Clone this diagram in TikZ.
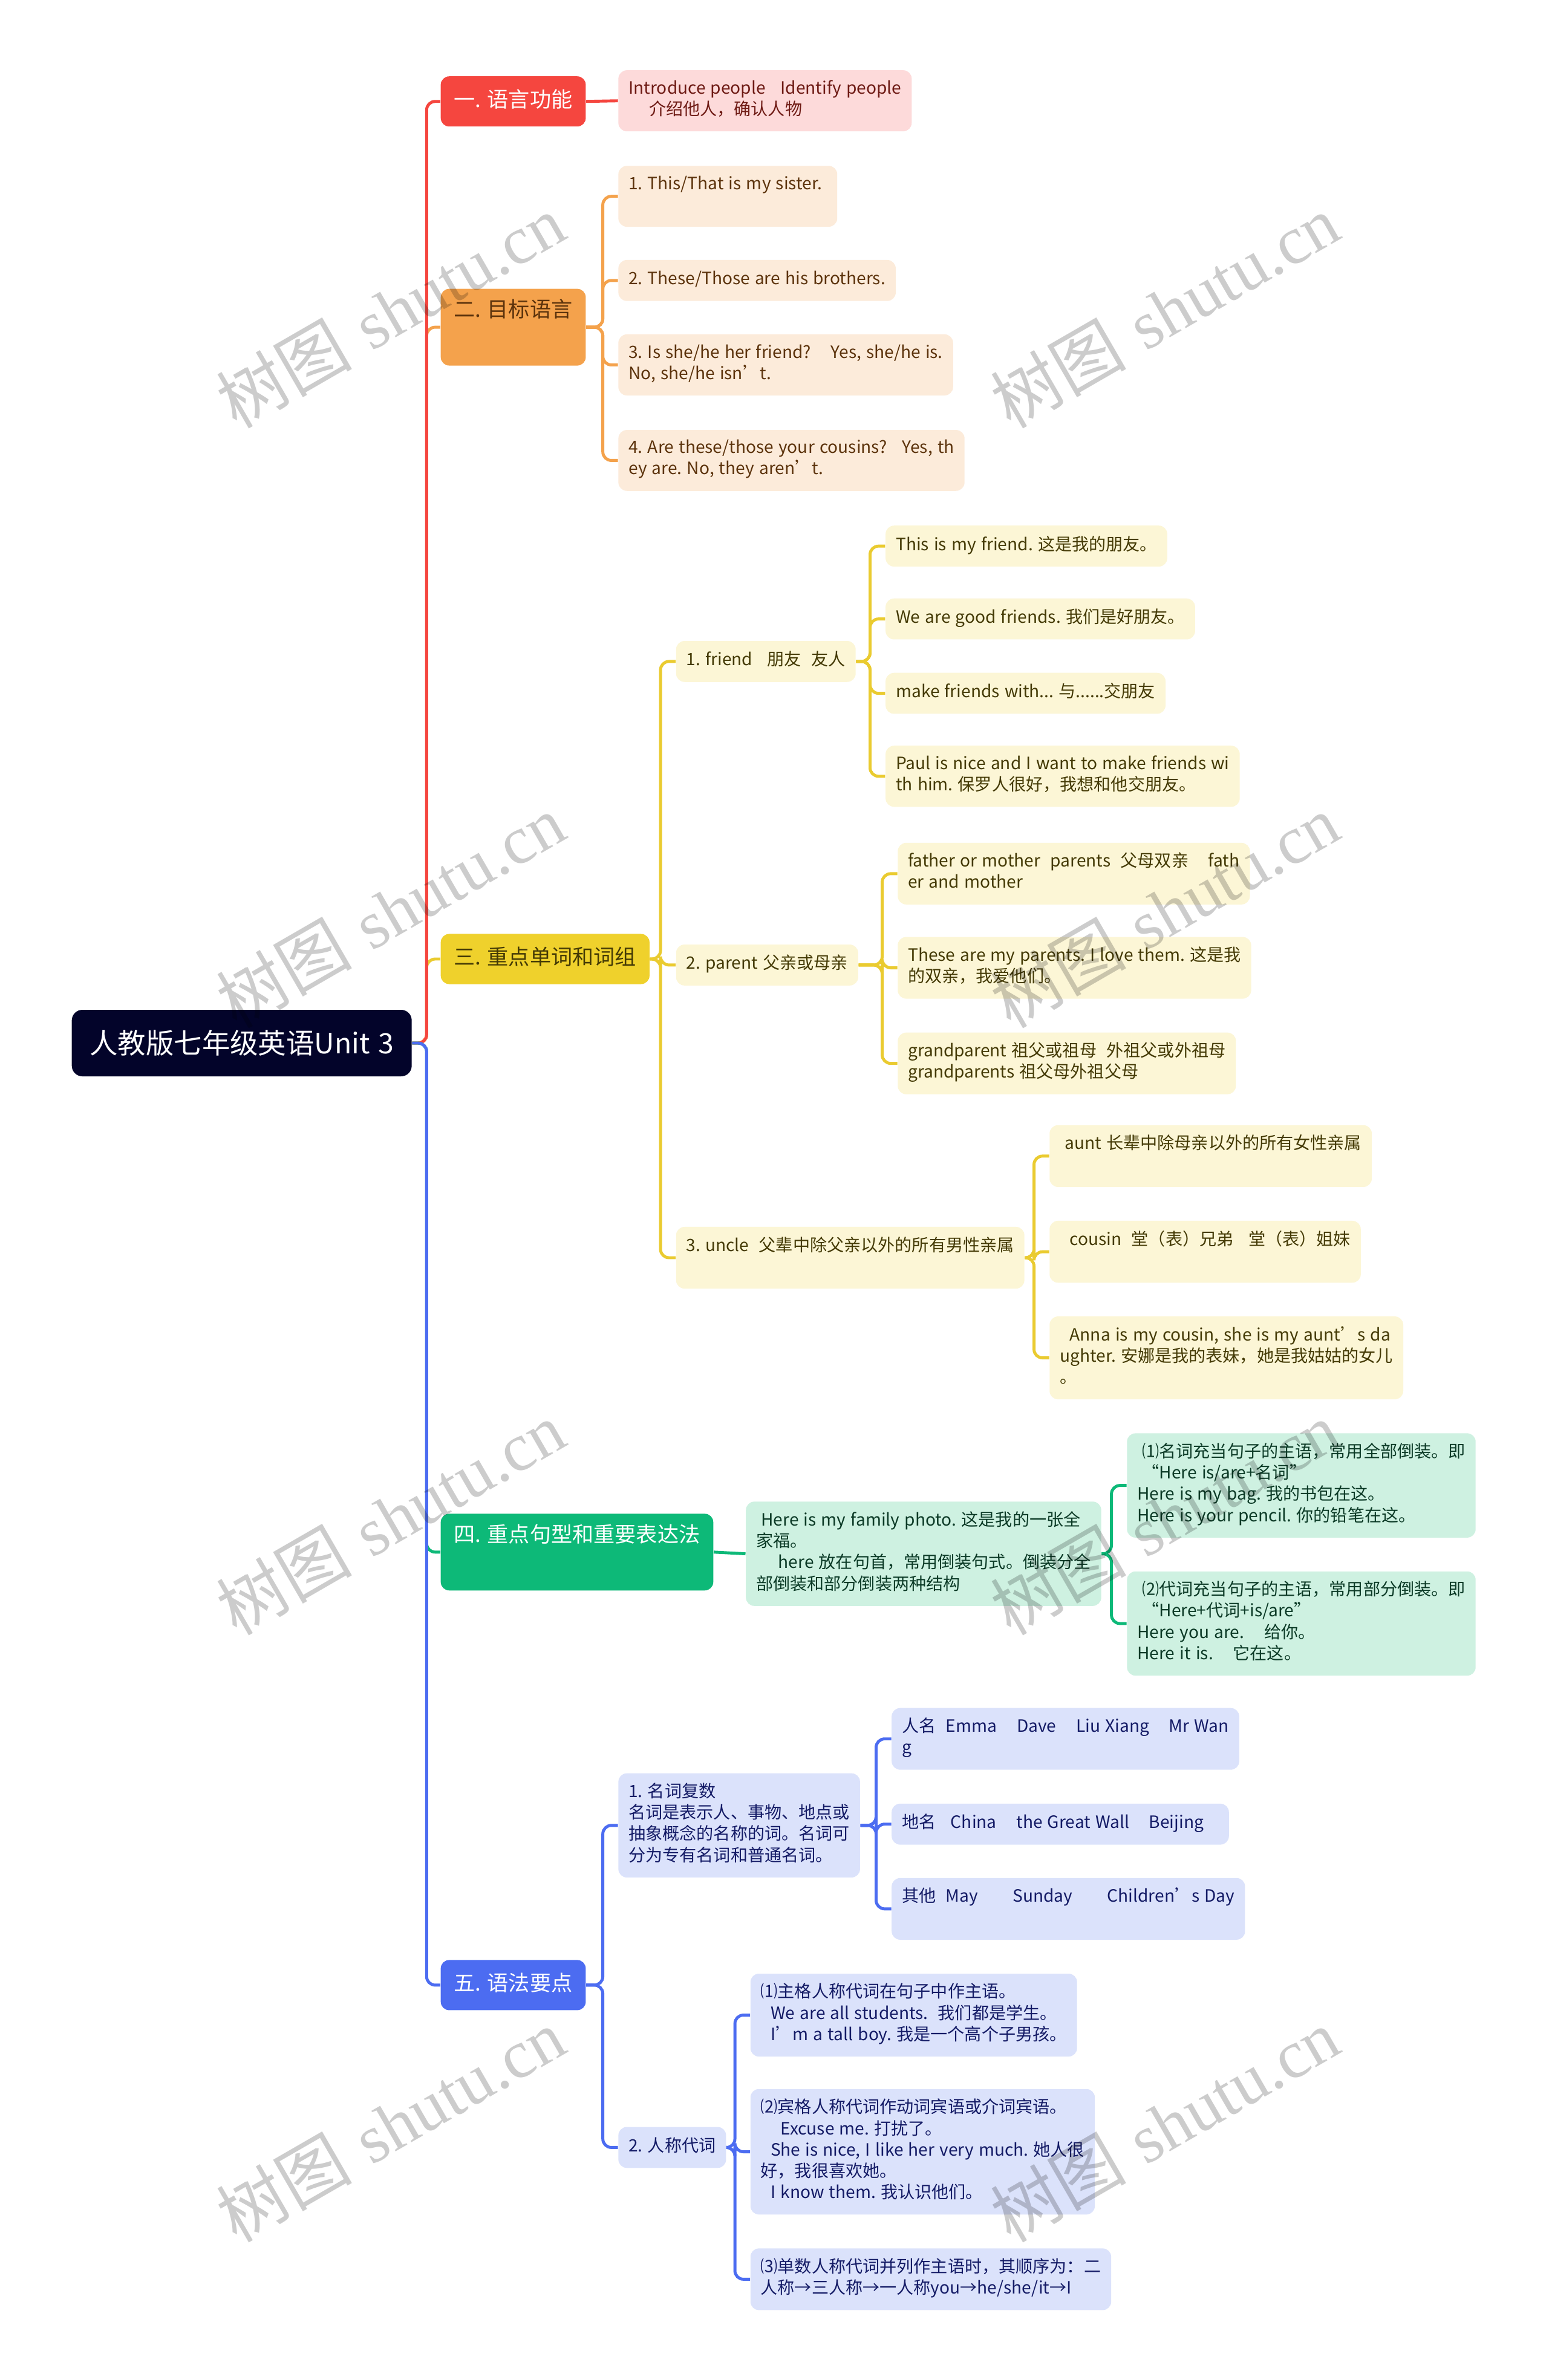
\documentclass[tikz,border=0pt]{standalone}
\usepackage{fontspec}
\setmainfont[WordSpace=1.3]{Noto Sans CJK SC}
\newfontfamily\wmfont{Liberation Serif}
\definecolor{rootnavy}{HTML}{03042A}
\definecolor{topicred}{HTML}{F5463F}
\definecolor{topicorange}{HTML}{F4A24C}
\definecolor{topicyellow}{HTML}{EFD12C}
\definecolor{topicgreen}{HTML}{0DB978}
\definecolor{topicblue}{HTML}{4C6CF1}
\definecolor{leafpink}{HTML}{FDDADA}
\definecolor{leafpeach}{HTML}{FCEBDA}
\definecolor{leafcream}{HTML}{FCF6D6}
\definecolor{leafmint}{HTML}{CEF1E1}
\definecolor{leaflav}{HTML}{DBE2FB}
\definecolor{inkred}{HTML}{6E1A14}
\definecolor{inkbrown}{HTML}{5C330C}
\definecolor{inkolive}{HTML}{443A05}
\definecolor{inkgreen}{HTML}{0B3A26}
\definecolor{inknavy}{HTML}{141B66}
\definecolor{lineyellow}{HTML}{EACB30}
\tikzset{
    rootnode/.style={rectangle, rounded corners=5pt, fill=rootnavy, text=white, anchor=north west, minimum width=5.62cm, minimum height=1.10cm, inner sep=0pt, font=\fontsize{13.2}{16}\selectfont},
    topic/.style={rectangle, rounded corners=4pt, anchor=north west, align=left, inner xsep=0.22cm, inner ysep=0.176cm, font=\fontsize{10}{13.6}\selectfont\frenchspacing, execute at begin node=\strut, execute at end node=\strut},
    leaf/.style={rectangle, rounded corners=4pt, anchor=north west, align=left, inner xsep=0.17cm, inner ysep=0.163cm, font=\fontsize{8}{10}\selectfont\frenchspacing, execute at begin node=\strut, execute at end node=\strut},
    pinkleaf/.style={leaf, fill=leafpink, text=inkred},
    peachleaf/.style={leaf, fill=leafpeach, text=inkbrown},
    creamleaf/.style={leaf, fill=leafcream, text=inkolive},
    mintleaf/.style={leaf, fill=leafmint, text=inkgreen},
    lavleaf/.style={leaf, fill=leaflav, text=inknavy},
    link/.style={line width=1.4pt, rounded corners=4pt},
    watermark/.style={rotate=30, text=black, text opacity=0.2, font=\fontsize{32}{32}\selectfont}
}
\begin{document}
\begin{tikzpicture}[x=0.0251cm, y=-0.0251cm]
    \useasboundingbox (0,0) rectangle (1020,1568);
    \fill[white] (0,0) rectangle (1020,1568);

    \node (root) [rootnode] at (47,665) {人教版七年级英语Unit 3};

    \node (t1) [topic, fill=topicred, text=white] at (290,50) {一. 语言功能};
    \node (t2) [topic, fill=topicorange, text=inkbrown] at (290,190) {二. 目标语言\\~};
    \node (t3) [topic, fill=topicyellow, text=inkolive] at (290,615) {三. 重点单词和词组};
    \node (t4) [topic, fill=topicgreen, text=white] at (290,997) {四. 重点句型和重要表达法\\~};
    \node (t5) [topic, fill=topicblue, text=white] at (290,1291) {五. 语法要点};

    \node (intro) [pinkleaf] at (407,46) {Introduce people\ \ \ Identify people\\\hspace{1.2em}介绍他人，确认人物};

    \node (s1) [peachleaf] at (407,109) {1. This/That is my sister.\ \ \\~};
    \node (s2) [peachleaf] at (407,171) {2. These/Those are his brothers.};
    \node (s3) [peachleaf] at (407,220) {3. Is she/he her friend?\ \ \ \ Yes, she/he is.\\No, she/he isn’t.};
    \node (s4) [peachleaf] at (407,283) {4. Are these/those your cousins?\ \ \ Yes, th\\ey are. No, they aren’t.};

    \node (friend) [creamleaf] at (445,422) {1. friend\ \ \ 朋友\ \ 友人};
    \node (parent) [creamleaf] at (445,622) {2. parent 父亲或母亲};
    \node (uncle) [creamleaf] at (445,808) {3. uncle\ \ 父辈中除父亲以外的所有男性亲属\\~};

    \node (f1) [creamleaf] at (583,346) {This is my friend. 这是我的朋友。};
    \node (f2) [creamleaf] at (583,394) {We are good friends. 我们是好朋友。};
    \node (f3) [creamleaf] at (583,443) {make friends with... 与......交朋友};
    \node (f4) [creamleaf] at (583,491) {Paul is nice and I want to make friends wi\\th him. 保罗人很好，我想和他交朋友。};

    \node (p1) [creamleaf] at (591,555) {father or mother\ \ parents\ \ 父母双亲\ \ \ \ fath\\er and mother};
    \node (p2) [creamleaf] at (591,617) {These are my parents. I love them. 这是我\\的双亲，我爱他们。};
    \node (p3) [creamleaf] at (591,680) {grandparent 祖父或祖母\ \ 外祖父或外祖母\\grandparents 祖父母外祖父母};

    \node (u1) [creamleaf] at (691,741) {\ aunt 长辈中除母亲以外的所有女性亲属\\~};
    \node (u2) [creamleaf] at (691,804) {\ \ cousin\ \ 堂（表）兄弟\ \ \ 堂（表）姐妹\\~};
    \node (u3) [creamleaf] at (691,867) {\ \ Anna is my cousin, she is my aunt’s da\\ughter. 安娜是我的表妹，她是我姑姑的女儿\\。};

    \node (photo) [mintleaf] at (491,989) {\ Here is my family photo. 这是我的一张全\\家福。\\\hspace{1.3em}here 放在句首，常用倒装句式。倒装分全\\部倒装和部分倒装两种结构};
    \node (h1) [mintleaf] at (742,944) {\ ⑴名词充当句子的主语，常用全部倒装。即\\\ “Here is/are+名词”\\Here is my bag. 我的书包在这。\\Here is your pencil. 你的铅笔在这。};
    \node (h2) [mintleaf] at (742,1035) {\ ⑵代词充当句子的主语，常用部分倒装。即\\\ “Here+代词+is/are”\\Here you are.\ \ \ \ 给你。\\Here it is.\ \ \ \ 它在这。};

    \node (plural) [lavleaf] at (407,1168) {1. 名词复数\\名词是表示人、事物、地点或\\抽象概念的名称的词。名词可\\分为专有名词和普通名词。};
    \node (pron) [lavleaf] at (407,1401) {2. 人称代词};

    \node (n1) [lavleaf] at (587,1125) {人名\ \ Emma\ \ \ \ Dave\ \ \ \ Liu Xiang\ \ \ \ Mr Wan\\g};
    \node (n2) [lavleaf] at (587,1188) {地名\ \ \ China\ \ \ \ the Great Wall\ \ \ \ Beijing\ \ \ };
    \node (n3) [lavleaf] at (587,1237) {其他\ \ May\ \ \ \ \ \ \ Sunday\ \ \ \ \ \ \ Children’s Day\\~};

    \node (r1) [lavleaf] at (494,1300) {⑴主格人称代词在句子中作主语。\\\ \ We are all students.\ \ 我们都是学生。\\\ \ I’m a tall boy. 我是一个高个子男孩。};
    \node (r2) [lavleaf] at (494,1376) {⑵宾格人称代词作动词宾语或介词宾语。\\\ \ \ \ Excuse me. 打扰了。\\\ \ She is nice, I like her very much. 她人很\\好，我很喜欢她。\\\ \ I know them. 我认识他们。};
    \node (r3) [lavleaf] at (494,1481) {⑶单数人称代词并列作主语时，其顺序为：二\\人称→三人称→一人称you→he/she/it→I};

    \draw [link, topicorange] (root.east) -| ([xshift=-0.226cm]t2.west) -- (t2.west);
    \draw [link, lineyellow] (root.east) -| ([xshift=-0.226cm]t3.west) -- (t3.west);
    \draw [link, topicred] (root.east) -| ([xshift=-0.226cm]t1.west) -- (t1.west);
    \draw [link, topicgreen] (root.east) -| ([xshift=-0.226cm]t4.west) -- (t4.west);
    \draw [link, topicblue] (root.east) -| ([xshift=-0.226cm]t5.west) -- (t5.west);

    \draw [link, topicred] (t1.east) -- (intro.west);

    \draw [link, topicorange] (t2.east) -| ([xshift=-0.25cm]s1.west) -- (s1.west);
    \draw [link, topicorange] (t2.east) -| ([xshift=-0.25cm]s2.west) -- (s2.west);
    \draw [link, topicorange] (t2.east) -| ([xshift=-0.25cm]s3.west) -- (s3.west);
    \draw [link, topicorange] (t2.east) -| ([xshift=-0.25cm]s4.west) -- (s4.west);

    \draw [link, lineyellow] (t3.east) -| ([xshift=-0.25cm]friend.west) -- (friend.west);
    \draw [link, lineyellow] (t3.east) -| ([xshift=-0.25cm]parent.west) -- (parent.west);
    \draw [link, lineyellow] (t3.east) -| ([xshift=-0.25cm]uncle.west) -- (uncle.west);

    \draw [link, lineyellow] (friend.east) -| ([xshift=-0.25cm]f1.west) -- (f1.west);
    \draw [link, lineyellow] (friend.east) -| ([xshift=-0.25cm]f2.west) -- (f2.west);
    \draw [link, lineyellow] (friend.east) -| ([xshift=-0.25cm]f3.west) -- (f3.west);
    \draw [link, lineyellow] (friend.east) -| ([xshift=-0.25cm]f4.west) -- (f4.west);

    \draw [link, lineyellow] (parent.east) -| ([xshift=-0.25cm]p1.west) -- (p1.west);
    \draw [link, lineyellow] (parent.east) -| ([xshift=-0.25cm]p2.west) -- (p2.west);
    \draw [link, lineyellow] (parent.east) -| ([xshift=-0.25cm]p3.west) -- (p3.west);

    \draw [link, lineyellow] (uncle.east) -| ([xshift=-0.25cm]u1.west) -- (u1.west);
    \draw [link, lineyellow] (uncle.east) -| ([xshift=-0.25cm]u2.west) -- (u2.west);
    \draw [link, lineyellow] (uncle.east) -| ([xshift=-0.25cm]u3.west) -- (u3.west);

    \draw [link, topicgreen] (t4.east) -- (photo.west);
    \draw [link, topicgreen] (photo.east) -| ([xshift=-0.25cm]h1.west) -- (h1.west);
    \draw [link, topicgreen] (photo.east) -| ([xshift=-0.25cm]h2.west) -- (h2.west);

    \draw [link, topicblue] (t5.east) -| ([xshift=-0.25cm]plural.west) -- (plural.west);
    \draw [link, topicblue] (t5.east) -| ([xshift=-0.25cm]pron.west) -- (pron.west);

    \draw [link, topicblue] (plural.east) -| ([xshift=-0.25cm]n1.west) -- (n1.west);
    \draw [link, topicblue] (plural.east) -| ([xshift=-0.25cm]n2.west) -- (n2.west);
    \draw [link, topicblue] (plural.east) -| ([xshift=-0.25cm]n3.west) -- (n3.west);

    \draw [link, topicblue] (pron.east) -| ([xshift=-0.25cm]r1.west) -- (r1.west);
    \draw [link, topicblue] (pron.east) -| ([xshift=-0.25cm]r2.west) -- (r2.west);
    \draw [link, topicblue] (pron.east) -| ([xshift=-0.25cm]r3.west) -- (r3.west);

    \foreach \wx/\wy [count=\i] in {257/205, 767/205, 257/600, 767/600, 257/1000, 767/1000, 257/1400, 767/1400}
        \node (wm\i) [watermark] at (\wx,\wy) {树图 {\wmfont shutu.cn}};
\end{tikzpicture}
\end{document}
